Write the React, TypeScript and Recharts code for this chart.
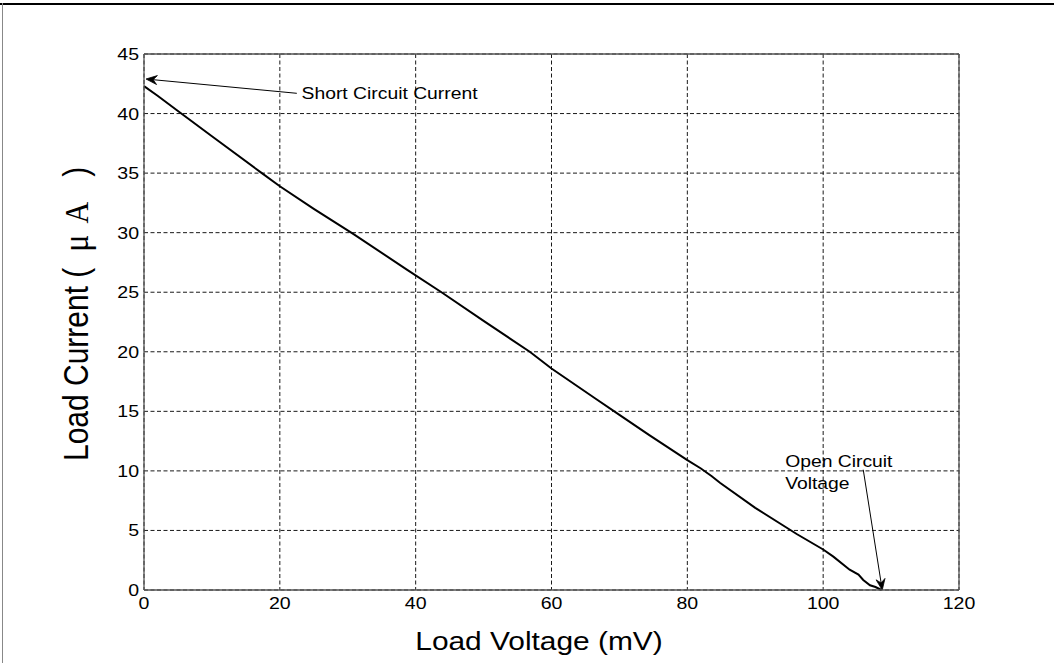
import React from 'react';
import {
  LineChart,
  Line,
  XAxis,
  YAxis,
  CartesianGrid,
  ReferenceLine,
  ReferenceDot,
} from 'recharts';

// Measured I-V curve of the cell
const loadVoltage = [
  0, 2, 4.8, 10, 17.1, 20, 25, 30.8, 38.7, 43.8, 50, 56.8, 60, 66.4, 70, 74.4,
  80, 82, 83.6, 84.8, 90, 96.1, 100, 101.5, 103.9, 105.2, 105.9, 106.9, 107.7, 108.6,
];
const loadCurrent = [
  42.3, 41.5, 40.3, 38.1, 35.1, 33.9, 32.0, 29.9, 26.9, 25.0, 22.6, 20.0, 18.6, 16.1, 14.7, 13.0,
  10.9, 10.2, 9.55, 9.0, 6.9, 4.7, 3.4, 2.8, 1.7, 1.3, 0.84, 0.4, 0.25, 0,
];

const xTicks = [0, 20, 40, 60, 80, 100, 120];
const yTicks = [0, 5, 10, 15, 20, 25, 30, 35, 40, 45];

// Annotation anchors (data coordinates)
const shortArrow = { fromV: 22.5, fromI: 41.7, toV: 0.3, toI: 42.9 };
const shortText = { v: 23.2, i: 41.7, text: 'Short Circuit Current' };
const openArrow = { fromV: 105.9, fromI: 10.1, toV: 108.7, toI: 0 };
const openText = { v: 94.4, i: 10.8, lines: ['Open Circuit', 'Voltage'] };

const data = loadVoltage.map((v, k) => ({ v, i: loadCurrent[k] }));

const SANS = '"Liberation Sans", Arial, Helvetica, sans-serif';
const SERIF = '"Liberation Serif", "Times New Roman", serif';
const STRETCH = 1.15;

// Plot box in pixels
const PLOT_LEFT = 144;
const PLOT_TOP = 54;
const PLOT_RIGHT = 959;
const PLOT_BOTTOM = 590;
const Y_AXIS_W = 60;
const X_AXIS_H = 30;

const XTick = (props: any) => {
  const { x, payload } = props;
  return (
    <g transform={`translate(${x},${PLOT_BOTTOM + 19}) scale(${STRETCH},1)`}>
      <text x={0} y={0} textAnchor="middle" fontFamily={SANS} fontSize={17} fill="#000">
        {payload.value}
      </text>
    </g>
  );
};

const YTick = (props: any) => {
  const { y, payload } = props;
  return (
    <g transform={`translate(${PLOT_LEFT - 5},${y + 6}) scale(${STRETCH},1)`}>
      <text x={0} y={0} textAnchor="end" fontFamily={SANS} fontSize={17} fill="#000">
        {payload.value}
      </text>
    </g>
  );
};

// Arrow with a filled, notched head at (x2, y2)
const arrowShape = (props: any) => {
  const { x1, y1, x2, y2 } = props;
  const dx = x2 - x1;
  const dy = y2 - y1;
  const len = Math.sqrt(dx * dx + dy * dy) || 1;
  const ux = dx / len;
  const uy = dy / len;
  const px = -uy;
  const py = ux;
  const headLen = 11;
  const headW = 4.5;
  const bx = x2 - ux * headLen;
  const by = y2 - uy * headLen;
  const nx = x2 - ux * headLen * 0.65;
  const ny = y2 - uy * headLen * 0.65;
  const pts = [
    `${x2},${y2}`,
    `${bx + px * headW},${by + py * headW}`,
    `${nx},${ny}`,
    `${bx - px * headW},${by - py * headW}`,
  ].join(' ');
  return (
    <g>
      <line x1={x1} y1={y1} x2={nx} y2={ny} stroke="#000" strokeWidth={1} />
      <polygon points={pts} fill="#000" stroke="#000" strokeWidth={0.8} />
    </g>
  );
};

const shortLabel = (props: any) => (
  <g transform={`translate(${props.cx},${props.cy + 6}) scale(${STRETCH},1)`}>
    <text x={0} y={0} fontFamily={SANS} fontSize={16.8} fill="#000">
      {shortText.text}
    </text>
  </g>
);

const openLabel = (props: any) => (
  <g transform={`translate(${props.cx},${props.cy + 6}) scale(${STRETCH},1)`}>
    <text x={0} y={0} fontFamily={SANS} fontSize={16.8} fill="#000">
      <tspan x={0} dy={0}>{openText.lines[0]}</tspan>
      <tspan x={0} dy={21.5}>{openText.lines[1]}</tspan>
    </text>
  </g>
);

const YAxisTitle = () => (
  <g transform={`translate(88,461) scale(${STRETCH},1) rotate(-90)`}>
    <text x={0} y={0} fontFamily={SANS} fontSize={30} fill="#000">
      <tspan>Load Current (</tspan>
      <tspan dx={16} fontFamily={SERIF} fontSize={32}>μ</tspan>
      <tspan dx={11} fontFamily={SERIF}>A</tspan>
      <tspan dx={25}>)</tspan>
    </text>
  </g>
);

const XAxisTitle = () => (
  <g transform={`translate(539,650) scale(${STRETCH},1)`}>
    <text x={0} y={0} textAnchor="middle" fontFamily={SANS} fontSize={26} fill="#000">
      Load Voltage (mV)
    </text>
  </g>
);

export default function App() {
  return (
    <div
      style={{
        position: 'absolute',
        left: 0,
        top: 0,
        width: 1054,
        height: 663,
        background: '#fff',
        overflow: 'hidden',
      }}
    >
      <div style={{ position: 'absolute', left: 0, top: 3, width: 1054, height: 2, background: '#000' }} />
      <div style={{ position: 'absolute', left: 2, top: 3, width: 1, height: 660, background: '#888' }} />
      <LineChart
        width={1054}
        height={663}
        data={data}
        margin={{
          top: PLOT_TOP,
          right: 1054 - PLOT_RIGHT,
          bottom: 663 - PLOT_BOTTOM - X_AXIS_H,
          left: PLOT_LEFT - Y_AXIS_W,
        }}
      >
        <CartesianGrid stroke="#1a1a1a" strokeDasharray="4 2.5" strokeWidth={1} />
        <XAxis
          dataKey="v"
          type="number"
          domain={[0, 120]}
          ticks={xTicks}
          height={X_AXIS_H}
          tickLine={false}
          axisLine={{ stroke: '#555', strokeWidth: 1.3 }}
          tick={<XTick />}
          interval={0}
          label={{ content: () => <XAxisTitle /> }}
        />
        <YAxis
          dataKey="i"
          type="number"
          domain={[0, 45]}
          ticks={yTicks}
          width={Y_AXIS_W}
          tickLine={false}
          axisLine={{ stroke: '#555', strokeWidth: 1.3 }}
          tick={<YTick />}
          interval={0}
          label={{ content: () => <YAxisTitle /> }}
        />
        <ReferenceLine y={45} stroke="#555" strokeWidth={1.3} />
        <ReferenceLine x={120} stroke="#555" strokeWidth={1.3} />
        <Line
          type="linear"
          dataKey="i"
          stroke="#000"
          strokeWidth={2}
          dot={false}
          activeDot={false}
          isAnimationActive={false}
        />
        <ReferenceLine
          segment={[
            { x: shortArrow.fromV, y: shortArrow.fromI },
            { x: shortArrow.toV, y: shortArrow.toI },
          ]}
          shape={arrowShape}
        />
        <ReferenceLine
          segment={[
            { x: openArrow.fromV, y: openArrow.fromI },
            { x: openArrow.toV, y: openArrow.toI },
          ]}
          shape={arrowShape}
        />
        <ReferenceDot x={shortText.v} y={shortText.i} r={0} shape={shortLabel} />
        <ReferenceDot x={openText.v} y={openText.i} r={0} shape={openLabel} />
      </LineChart>
    </div>
  );
}
